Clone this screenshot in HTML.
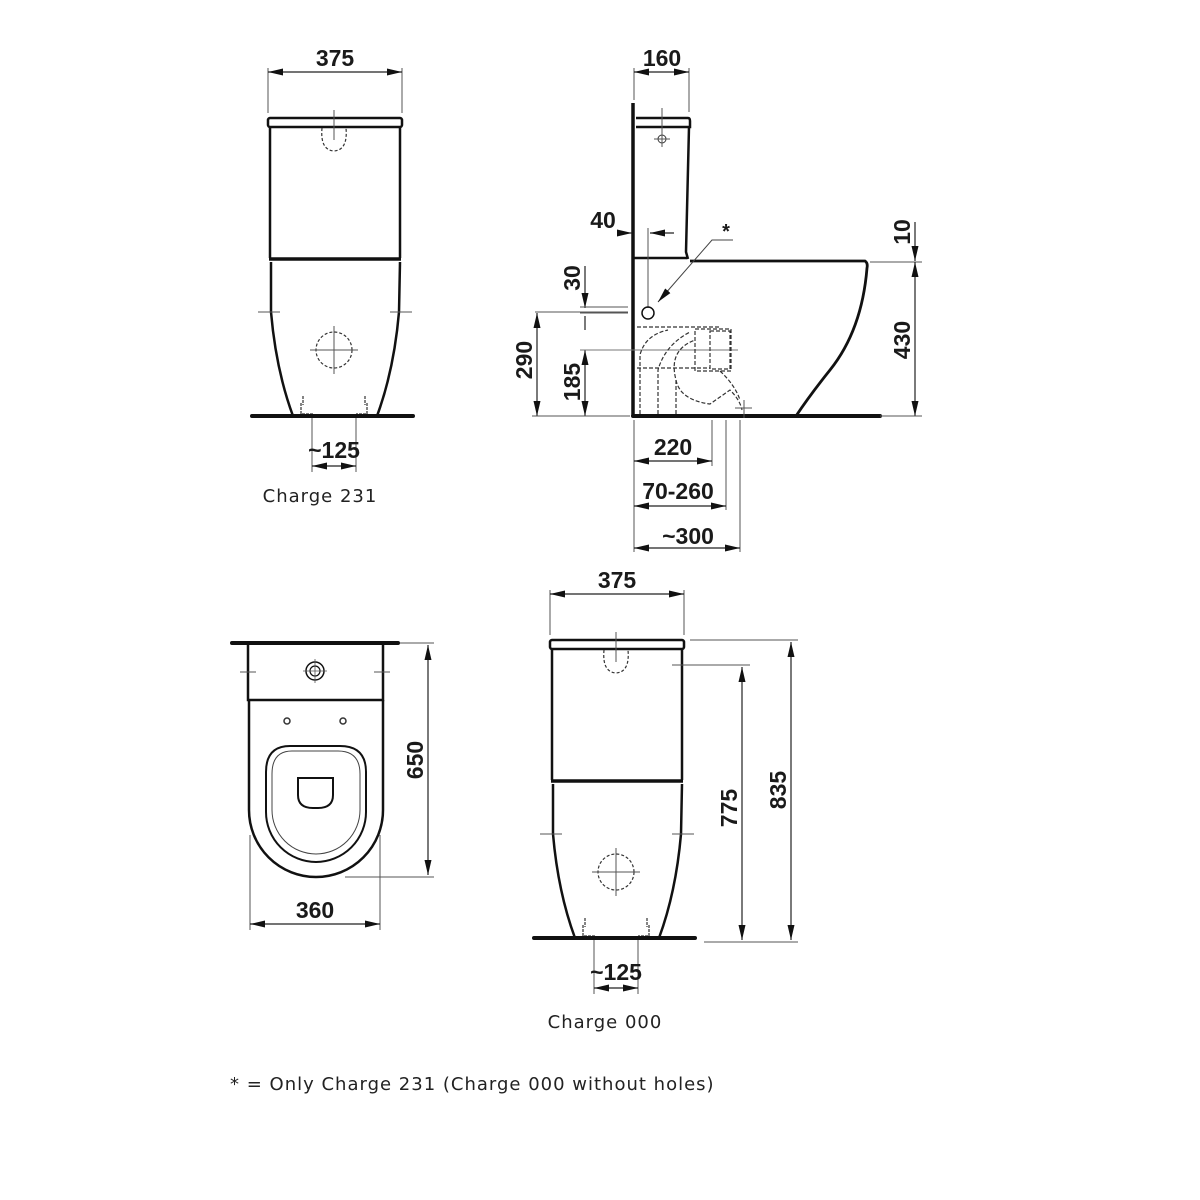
<!DOCTYPE html>
<html><head><meta charset="utf-8"><style>
html,body{margin:0;padding:0;background:#fff;}
svg{display:block;}
.d{font-family:"Liberation Sans Narrow","Liberation Sans",sans-serif;font-weight:bold;font-size:23px;fill:#1a1a1a;text-anchor:middle;}
.c{font-family:"DejaVu Sans","Liberation Sans",sans-serif;font-size:18px;fill:#222;letter-spacing:1px;}
</style></head><body>
<svg width="1200" height="1200" viewBox="0 0 1200 1200" xmlns="http://www.w3.org/2000/svg">
<defs>
<marker id="a" viewBox="0 0 10 10" refX="10" refY="5" markerWidth="15" markerHeight="7" preserveAspectRatio="none" markerUnits="userSpaceOnUse" orient="auto-start-reverse"><path d="M0,0 L10,5 L0,10 z" fill="#111"/></marker>
<g id="front">
  <line x1="268" y1="68" x2="268" y2="113" stroke="#555" stroke-width="1"/>
  <line x1="402" y1="68" x2="402" y2="113" stroke="#555" stroke-width="1"/>
  <line x1="268" y1="72" x2="402" y2="72" stroke="#222" stroke-width="1.2" marker-start="url(#a)" marker-end="url(#a)"/>
  <text class="d" x="335" y="66">375</text>
  <rect x="268" y="118" width="134" height="9" rx="2" fill="none" stroke="#111" stroke-width="2.5"/>
  <path d="M270,127 L270,258 M400,127 L400,258" stroke="#111" stroke-width="2.5" fill="none"/>
  <path d="M269,259 L401,259" stroke="#111" stroke-width="3.5"/>
  <path d="M271,262 L271,312 Q276,370 293,416 M400,262 L399,312 Q394,370 377,416" stroke="#111" stroke-width="2.5" fill="none"/>
  <line x1="334" y1="110" x2="334" y2="140" stroke="#555" stroke-width="1"/>
  <path d="M322,128 Q320,150 334,151 Q348,150 346,128" fill="none" stroke="#333" stroke-width="1.2" stroke-dasharray="3,2"/>
  <line x1="258" y1="312" x2="280" y2="312" stroke="#555" stroke-width="1"/>
  <line x1="390" y1="312" x2="412" y2="312" stroke="#555" stroke-width="1"/>
  <circle cx="334" cy="350" r="18" fill="none" stroke="#333" stroke-width="1.2" stroke-dasharray="3,2"/>
  <path d="M310,350 L358,350 M334,326 L334,374" stroke="#555" stroke-width="1"/>
  <path d="M301,403 L301,414 L313,414 M367,403 L367,414 L356,414 M303,396 L303,405 M365,396 L365,405" stroke="#333" stroke-width="1.2" fill="none" stroke-dasharray="3,1"/>
  <line x1="252" y1="416" x2="413" y2="416" stroke="#111" stroke-width="4" stroke-linecap="round"/>
  <line x1="312" y1="418" x2="312" y2="472" stroke="#555" stroke-width="1"/>
  <line x1="356" y1="418" x2="356" y2="472" stroke="#555" stroke-width="1"/>
  <line x1="312" y1="466" x2="356" y2="466" stroke="#222" stroke-width="1.2" marker-start="url(#a)" marker-end="url(#a)"/>
  <text class="d" x="334" y="458">~125</text>
</g>
</defs>
<use href="#front"/>
<text class="c" x="320" y="502" text-anchor="middle">Charge 231</text>
<use href="#front" transform="translate(282,522)"/>
<text class="c" x="605" y="1028" text-anchor="middle">Charge 000</text>

<!-- side view -->
<g>
  <line x1="634" y1="68" x2="634" y2="100" stroke="#555" stroke-width="1"/>
  <line x1="689" y1="68" x2="689" y2="112" stroke="#555" stroke-width="1"/>
  <line x1="634" y1="72" x2="689" y2="72" stroke="#222" stroke-width="1.2" marker-start="url(#a)" marker-end="url(#a)"/>
  <text class="d" x="662" y="66">160</text>
  <line x1="633" y1="103" x2="633" y2="416" stroke="#111" stroke-width="3.5"/>
  <path d="M636,118 L688,118 Q690,118 690,121 L690,127 L636,127" fill="none" stroke="#111" stroke-width="2.5"/>
  <path d="M689,127 L686,252 L688,259" stroke="#111" stroke-width="2.5" fill="none"/>
  <line x1="634" y1="258" x2="687" y2="258" stroke="#111" stroke-width="2.5"/>
  <path d="M690,261 L865,261 Q868,263 867,268 Q862,330 830,370 Q810,395 796,416" stroke="#111" stroke-width="2.8" fill="none"/>
  <line x1="633" y1="416" x2="880" y2="416" stroke="#111" stroke-width="4" stroke-linecap="round"/>
  <circle cx="662" cy="139" r="4" fill="none" stroke="#333" stroke-width="1"/>
  <path d="M654,139 L670,139 M662,108 L662,147" stroke="#555" stroke-width="1"/>
  <text class="d" x="603" y="228">40</text>
  <line x1="618" y1="233" x2="632" y2="233" stroke="#222" stroke-width="1.2" marker-end="url(#a)"/>
  <line x1="674" y1="233" x2="650" y2="233" stroke="#222" stroke-width="1.2" marker-end="url(#a)"/>
  <line x1="648" y1="228" x2="648" y2="308" stroke="#555" stroke-width="1"/>
  <text class="d" x="726" y="238" style="font-size:20px">*</text>
  <path d="M733,240 L712,240 L658,302" stroke="#444" stroke-width="1" fill="none" marker-end="url(#a)"/>
  <circle cx="648" cy="313" r="6" fill="none" stroke="#111" stroke-width="1.5"/>
  <line x1="870" y1="262" x2="922" y2="262" stroke="#555" stroke-width="1"/>
  <line x1="915" y1="222" x2="915" y2="261" stroke="#222" stroke-width="1.2" marker-end="url(#a)"/>
  <line x1="915" y1="262" x2="915" y2="416" stroke="#222" stroke-width="1.2" marker-start="url(#a)" marker-end="url(#a)"/>
  <line x1="880" y1="416" x2="922" y2="416" stroke="#555" stroke-width="1"/>
  <text class="d" transform="translate(910,232) rotate(-90)">10</text>
  <text class="d" transform="translate(910,340) rotate(-90)">430</text>
  <line x1="585" y1="266" x2="585" y2="308" stroke="#222" stroke-width="1.2" marker-end="url(#a)"/>
  <line x1="585" y1="316" x2="585" y2="330" stroke="#222" stroke-width="1.2"/>
  <path d="M580,307 L628,307 M580,313 L628,313 M535,312 L628,312" stroke="#555" stroke-width="1"/>
  <line x1="585" y1="350" x2="585" y2="416" stroke="#222" stroke-width="1.2" marker-start="url(#a)" marker-end="url(#a)"/>
  <line x1="580" y1="350" x2="738" y2="350" stroke="#777" stroke-width="1"/>
  <line x1="537" y1="313" x2="537" y2="416" stroke="#222" stroke-width="1.2" marker-start="url(#a)" marker-end="url(#a)"/>
  <line x1="532" y1="416" x2="630" y2="416" stroke="#555" stroke-width="1"/>
  <text class="d" transform="translate(580,278) rotate(-90)">30</text>
  <text class="d" transform="translate(532,360) rotate(-90)">290</text>
  <text class="d" transform="translate(580,382) rotate(-90)">185</text>
  <g fill="none" stroke="#333" stroke-width="1.2" stroke-dasharray="4,2">
    <path d="M637,327 L720,327"/>
    <rect x="695" y="329" width="36" height="42"/>
    <rect x="710" y="331" width="20" height="38"/>
    <path d="M637,368 L710,368"/>
    <path d="M640,414 L640,355 Q645,335 668,330"/>
    <path d="M658,414 L658,370 Q665,345 690,332"/>
    <path d="M676,414 L676,380 Q668,350 695,340"/>
    <path d="M676,380 Q680,400 710,404 L730,390 Q740,400 742,410"/>
    <path d="M720,371 Q735,385 740,400"/>
  </g>
  <path d="M735,408 L752,408 M744,400 L744,418" stroke="#555" stroke-width="1"/>
  <path d="M634,420 L634,552 M712,420 L712,466 M726,420 L726,510 M740,420 L740,552" stroke="#555" stroke-width="1"/>
  <line x1="634" y1="461" x2="712" y2="461" stroke="#222" stroke-width="1.2" marker-start="url(#a)" marker-end="url(#a)"/>
  <line x1="634" y1="506" x2="726" y2="506" stroke="#222" stroke-width="1.2" marker-start="url(#a)" marker-end="url(#a)"/>
  <line x1="634" y1="548" x2="740" y2="548" stroke="#222" stroke-width="1.2" marker-start="url(#a)" marker-end="url(#a)"/>
  <text class="d" x="673" y="455">220</text>
  <text class="d" x="678" y="499">70-260</text>
  <text class="d" x="688" y="544">~300</text>
</g>

<!-- plan view -->
<g>
  <line x1="232" y1="643" x2="398" y2="643" stroke="#111" stroke-width="4" stroke-linecap="round"/>
  <path d="M248,645 L248,700 L383,700 L383,645" fill="none" stroke="#111" stroke-width="2.5"/>
  <path d="M249,700 L249,810 A67,67 0 0 0 383,810 L383,700" fill="none" stroke="#111" stroke-width="2.5"/>
  <path d="M240,672 L256,672 M374,672 L390,672" stroke="#555" stroke-width="1"/>
  <circle cx="315" cy="671" r="9" fill="none" stroke="#111" stroke-width="1.5"/>
  <circle cx="315" cy="671" r="5" fill="none" stroke="#111" stroke-width="1.2"/>
  <path d="M303,671 L327,671 M315,659 L315,683" stroke="#555" stroke-width="0.8"/>
  <circle cx="287" cy="721" r="3" fill="none" stroke="#333" stroke-width="1.5"/>
  <circle cx="343" cy="721" r="3" fill="none" stroke="#333" stroke-width="1.5"/>
  <path d="M290,746 L340,746 Q366,746 366,772 L366,812 A50,50 0 0 1 266,812 L266,772 Q266,746 290,746 Z" fill="none" stroke="#111" stroke-width="2"/>
  <path d="M292,751 L338,751 Q360,751 360,774 L360,810 A44,44 0 0 1 272,810 L272,774 Q272,751 292,751 Z" fill="none" stroke="#444" stroke-width="1"/>
  <path d="M298,778 L333,778 L333,795 Q333,808 318,808 L313,808 Q298,808 298,795 Z" fill="none" stroke="#111" stroke-width="2"/>
  <path d="M400,643 L434,643 M345,877 L434,877" stroke="#555" stroke-width="1"/>
  <line x1="428" y1="645" x2="428" y2="875" stroke="#222" stroke-width="1.2" marker-start="url(#a)" marker-end="url(#a)"/>
  <text class="d" transform="translate(423,760) rotate(-90)">650</text>
  <path d="M250,835 L250,930 M380,835 L380,930" stroke="#555" stroke-width="1"/>
  <line x1="250" y1="924" x2="380" y2="924" stroke="#222" stroke-width="1.2" marker-start="url(#a)" marker-end="url(#a)"/>
  <text class="d" x="315" y="918">360</text>
</g>

<g>
  <path d="M690,640 L798,640 M672,665 L750,665 M704,942 L798,942" stroke="#555" stroke-width="1"/>
  <line x1="742" y1="667" x2="742" y2="940" stroke="#222" stroke-width="1.2" marker-start="url(#a)" marker-end="url(#a)"/>
  <line x1="791" y1="642" x2="791" y2="940" stroke="#222" stroke-width="1.2" marker-start="url(#a)" marker-end="url(#a)"/>
  <text class="d" transform="translate(737,808) rotate(-90)">775</text>
  <text class="d" transform="translate(786,790) rotate(-90)">835</text>
</g>

<text class="c" x="230" y="1090">* = Only Charge 231 (Charge 000 without holes)</text>
</svg>
</body></html>
